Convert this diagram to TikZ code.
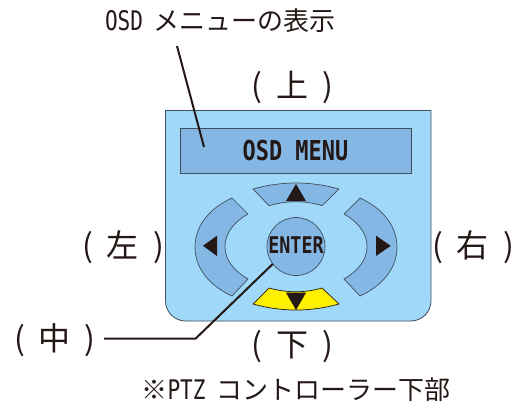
\documentclass[tikz,border=0pt]{standalone}
\usepackage{fontspec}
\setmainfont{Noto Sans CJK JP}
\newfontfamily\jp{Noto Sans CJK JP}
\newfontfamily\monor[FakeStretch=0.78]{DejaVu Sans Mono}
\newfontfamily\monob[FakeStretch=0.80,BoldFont={DejaVu Sans Mono Bold}]{DejaVu Sans Mono}
\definecolor{ink}{HTML}{231815}
\definecolor{panelblue}{HTML}{9FD8F8}
\definecolor{btnblue}{HTML}{85B7E5}
\definecolor{btnyellow}{HTML}{FFF000}
\definecolor{edge}{HTML}{3F4F5C}
\newcommand{\lab}[1]{(\hspace{14pt}#1\hspace{14pt})}
\tikzset{
  every node/.style={inner sep=0pt,outer sep=0pt,text=ink},
  dirlabel/.style={font=\jp\fontsize{32}{32}\selectfont,anchor=base},
  caption/.style={font=\jp\fontsize{26}{26}\selectfont,anchor=base west},
  panel/.style={draw=edge,line width=0.8pt,fill=panelblue},
  btn/.style={draw=edge,line width=0.7pt,fill=btnblue},
  btnlit/.style={draw=ink,line width=0.7pt,fill=btnyellow},
  tri/.style={fill=ink,draw=none},
  leader/.style={draw=ink,line width=2pt}
}
\begin{document}
\begin{tikzpicture}[x=1pt,y=-1pt]
\useasboundingbox (0,0) rectangle (528,405);
% panel
\draw[panel] (165.5,110.5) -- (165.5,301) .. controls (165.5,312) and (174.5,321) .. (185.5,321) -- (411,321) .. controls (422,321) and (431,312) .. (431,301) -- (431,110.5) -- cycle;
% display
\node[panel,fill=btnblue,minimum width=230.5pt,minimum height=44.5pt,anchor=center] (display) at (295.75,150.75) {};
\node[font=\monob\bfseries\fontsize{27.4}{27.4}\selectfont,anchor=base] (menu) at (295.5,160) {OSD MENU};
% buttons
\draw[btn] (253,189) .. controls (281.7,181) and (310.3,181) .. (339,189) -- (322,205.7) .. controls (305,200.4) and (287,200.4) .. (269,205.7) -- cycle;
\draw[btnlit] (253,304) .. controls (281.7,312) and (310.3,312) .. (339,304) -- (322,288) .. controls (305,293) and (287,293) .. (269,288) -- cycle;
\draw[btn] (232,198) .. controls (208,209) and (195,227) .. (195,247) .. controls (195,267) and (208,285) .. (232,296) -- (248,279) .. controls (234,271) and (225,260) .. (225,246.5) .. controls (225,233) and (234,222) .. (248,214) -- cycle;
\draw[btn] (360,198) .. controls (384,209) and (397,227) .. (397,247) .. controls (397,267) and (384,285) .. (360,296) -- (344,279) .. controls (358,271) and (367,260) .. (367,246.5) .. controls (367,233) and (358,222) .. (344,214) -- cycle;
% triangles
\fill[tri] (286,201) -- (306,201) -- (296,184) -- cycle;
\fill[tri] (286,292.7) -- (306,292.7) -- (296,310) -- cycle;
\fill[tri] (217,235.7) -- (217,256) -- (203,245.8) -- cycle;
\fill[tri] (376,235.7) -- (376,256) -- (390.7,245.8) -- cycle;
% enter
\node[btn,circle,minimum size=58pt,anchor=center] (enter) at (296,246.5) {};
\node[font=\monob\bfseries\fontsize{23}{23}\selectfont,anchor=base] (entertext) at (296,253) {ENTER};
% labels
\node[caption] (osdlabel) at (105,30) {{\monor\fontsize{27}{27}\selectfont OSD}\hspace{5pt} メニューの表示};
\node[dirlabel] (up) at (292.5,97) {\lab{上}};
\node[dirlabel] (down) at (292.5,356) {\lab{下}};
\node[dirlabel] (left) at (123,257) {\lab{左}};
\node[dirlabel] (right) at (473,257) {\lab{右}};
\node[dirlabel] (center) at (55,350) {\lab{中}};
\node[caption] (note) at (141.5,399) {※{\monor\fontsize{27}{27}\selectfont PTZ}\hspace{5pt} コントローラー下部};
% leaders
\coordinate (osdstart) at (177,46);
\coordinate (osdend) at (204,147);
\coordinate (bend) at (195.5,338.7);
\coordinate (enterend) at (272.7,264);
\coordinate (centerend) at (104,338.7);
\draw[leader] (osdstart) -- (osdend);
\draw[leader] (enterend) -- (bend) -- (centerend);
\end{tikzpicture}
\end{document}
